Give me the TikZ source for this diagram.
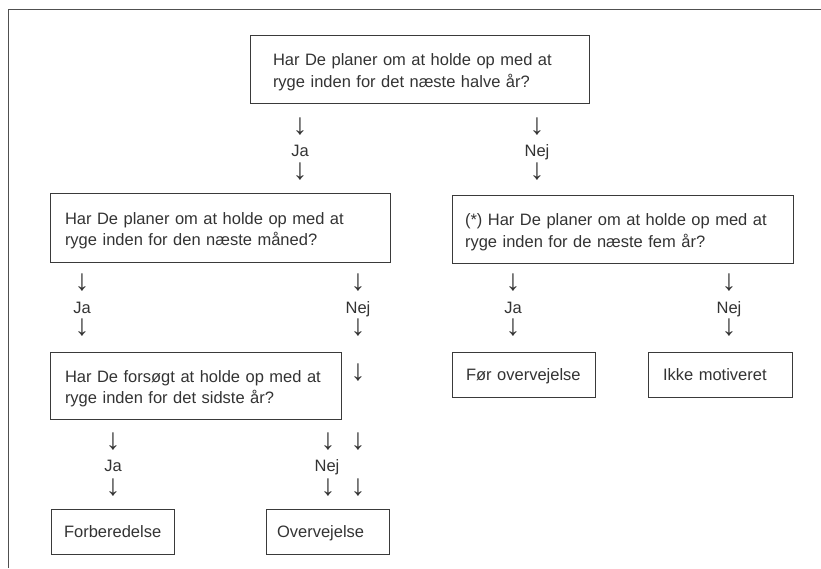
\documentclass[tikz,border=0pt]{standalone}
\usepackage{fontspec}
\setmainfont{Liberation Sans}
\definecolor{ink}{HTML}{333333}
\definecolor{boxline}{HTML}{3A3A3A}
\definecolor{frameline}{HTML}{505050}
\newcommand{\dnarrow}{\scalebox{1.8}{↓}}
\tikzset{
  qbox/.style={draw=boxline, line width=0.9pt, anchor=north west, align=left,
    inner ysep=0pt, outer sep=0pt, text=ink, font=\fontsize{16.5}{21.5}\selectfont},
  twoline/.style={text height=18.9pt, text depth=25.5pt},
  oneline/.style={text height=12pt, text depth=0pt},
  lab/.style={inner sep=0pt, outer sep=0pt, text=ink, font=\fontsize{16.5}{20}\selectfont},
  arr/.style={lab, anchor=center},
  word/.style={lab, anchor=base},
  frame/.style={draw=frameline, line width=0.9pt}
}
\begin{document}
\begin{tikzpicture}[x=1pt,y=-1pt]
\useasboundingbox (0,0) rectangle (821,568);
\draw[frame] (8,568) -- (8,9) -- (821,9);

% question boxes
\node[qbox, twoline, inner xsep=23pt, text width=293pt, minimum height=68pt] (q1) at (250,35)
  {Har De planer om at holde op med at\\ryge inden for det næste halve år?};
\node[qbox, twoline, inner xsep=15pt, text width=310pt, minimum height=69pt] (q2) at (50,193)
  {Har De planer om at holde op med at\\ryge inden for den næste måned?};
\node[qbox, twoline, inner xsep=13pt, text width=315pt, minimum height=68pt] (q3) at (452,195)
  {(*) Har De planer om at holde op med at\\ryge inden for de næste fem år?};
\node[qbox, twoline, inner xsep=15pt, text width=261pt, minimum height=67pt] (q4) at (50,352)
  {Har De forsøgt at holde op med at\\ryge inden for det sidste år?};

% outcome boxes
\node[qbox, oneline, inner xsep=14pt, text width=115pt, minimum height=45pt] (r1) at (452,352)
  {\mbox{Før overvejelse}};
\node[qbox, oneline, inner xsep=15pt, text width=114pt, minimum height=45pt] (r2) at (648,352)
  {\mbox{Ikke motiveret}};
\node[qbox, oneline, inner xsep=13pt, text width=97pt, minimum height=45pt] (r3) at (51,509)
  {\mbox{Forberedelse}};
\node[qbox, oneline, inner xsep=11pt, text width=101pt, minimum height=45pt] (r4) at (266,509)
  {\mbox{Overvejelse}};

% row 1
\node[arr] (a11) at (300,127) {\dnarrow};
\node[word] (j1) at (300,156) {Ja};
\node[arr] (a12) at (300,172) {\dnarrow};
\node[arr] (a13) at (537,127) {\dnarrow};
\node[word] (n1) at (537,156) {Nej};
\node[arr] (a14) at (537,172) {\dnarrow};

% row 2
\node[arr] (a21) at (82,283) {\dnarrow};
\node[word] (j2) at (82,313) {Ja};
\node[arr] (a22) at (82,328) {\dnarrow};
\node[arr] (a23) at (358,283) {\dnarrow};
\node[word] (n2) at (358,313) {Nej};
\node[arr] (a24) at (358,328) {\dnarrow};
\node[arr] (a25) at (513,283) {\dnarrow};
\node[word] (j3) at (513,313) {Ja};
\node[arr] (a26) at (513,328) {\dnarrow};
\node[arr] (a27) at (729,283) {\dnarrow};
\node[word] (n3) at (729,313) {Nej};
\node[arr] (a28) at (729,328) {\dnarrow};
\node[arr] (a29) at (358,373) {\dnarrow};

% row 3
\node[arr] (a31) at (113,442) {\dnarrow};
\node[word] (j4) at (113,471.5) {Ja};
\node[arr] (a32) at (113,488) {\dnarrow};
\node[arr] (a33) at (328,442) {\dnarrow};
\node[arr] (a34) at (358,442) {\dnarrow};
\node[word] (n4) at (327,471.5) {Nej};
\node[arr] (a35) at (328,488) {\dnarrow};
\node[arr] (a36) at (358,488) {\dnarrow};
\end{tikzpicture}
\end{document}
